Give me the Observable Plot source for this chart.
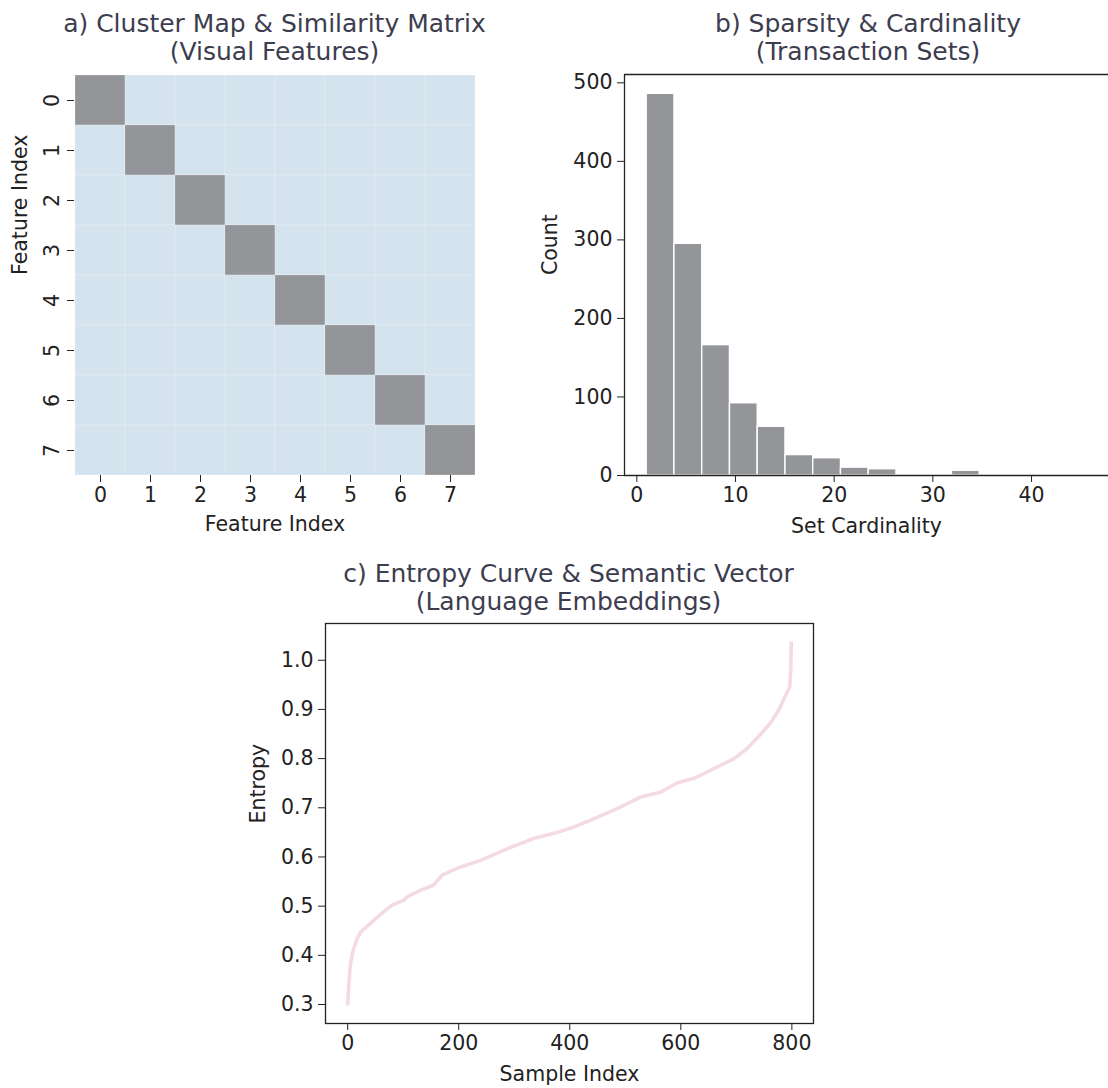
<!DOCTYPE html>
<html><head><meta charset="utf-8">
<script src="https://cdn.jsdelivr.net/npm/d3@7"></script>
<script src="https://cdn.jsdelivr.net/npm/@observablehq/plot@0.6"></script>
<style>
html,body{margin:0;padding:0;background:#fff;overflow:hidden;}
#root{position:relative;width:1108px;height:1088px;font-family:"DejaVu Sans",sans-serif;overflow:hidden;}
.panel{position:absolute;}
.title{position:absolute;text-align:center;color:#3d3d50;font-size:25px;line-height:28px;white-space:nowrap;transform:translateX(-50%);}
</style></head><body><div id="root"></div><script>
// ---------- data ----------
const featureLabels = [0, 1, 2, 3, 4, 5, 6, 7];
const similarityRows = [
  [1, 0, 0, 0, 0, 0, 0, 0],
  [0, 1, 0, 0, 0, 0, 0, 0],
  [0, 0, 1, 0, 0, 0, 0, 0],
  [0, 0, 0, 1, 0, 0, 0, 0],
  [0, 0, 0, 0, 1, 0, 0, 0],
  [0, 0, 0, 0, 0, 1, 0, 0],
  [0, 0, 0, 0, 0, 0, 1, 0],
  [0, 0, 0, 0, 0, 0, 0, 1]
];
const binEdges = [1, 3.8125, 6.625, 9.4375, 12.25, 15.0625, 17.875, 20.6875, 23.5, 26.3125, 29.125, 31.9375, 34.75, 37.5625, 40.375, 43.1875, 46];
const binCounts = [486, 295, 166, 92, 62, 26, 22, 10, 8, 1, 1, 6, 1, 0, 0, 1];
const histXTicks = [0, 10, 20, 30, 40];
const histYTicks = [0, 100, 200, 300, 400, 500];
const sampleIndex = [0, 2, 5, 10, 17, 24, 41, 62, 80, 101, 107, 131, 155, 170, 197, 239, 288, 336, 372, 402, 438, 492, 528, 564, 594, 624, 666, 696, 720, 745, 763, 778, 787, 796, 798, 799];
const entropyValue = [0.298, 0.34, 0.383, 0.41, 0.434, 0.448, 0.465, 0.486, 0.502, 0.512, 0.519, 0.532, 0.543, 0.563, 0.577, 0.593, 0.617, 0.638, 0.648, 0.659, 0.675, 0.702, 0.722, 0.732, 0.751, 0.760, 0.783, 0.800, 0.821, 0.851, 0.875, 0.902, 0.925, 0.945, 0.98, 1.038];
const entropyXTicks = [0, 200, 400, 600, 800];
const entropyYTicks = [0.3, 0.4, 0.5, 0.6, 0.7, 0.8, 0.9, 1.0];
const titles = {
  a: ["a) Cluster Map & Similarity Matrix", "(Visual Features)"],
  b: ["b) Sparsity & Cardinality", "(Transaction Sets)"],
  c: ["c) Entropy Curve & Semantic Vector", "(Language Embeddings)"]
};

// ---------- styles ----------
const INK = "#222";
const FS = 20.5;
const baseStyle = {fontFamily: "DejaVu Sans, sans-serif", fontSize: FS + "px", color: INK, background: "transparent", overflow: "visible"};
const root = document.getElementById("root");

function place(el, left, top) {
  const wrap = document.createElement("div");
  wrap.className = "panel";
  wrap.style.left = left + "px";
  wrap.style.top = top + "px";
  wrap.appendChild(el);
  root.appendChild(wrap);
}
function addTitle(lines, cx, top) {
  const t = document.createElement("div");
  t.className = "title";
  t.style.left = cx + "px";
  t.style.top = top + "px";
  t.innerHTML = lines.map(s => s.replace(/&/g, "&amp;")).join("<br>");
  root.appendChild(t);
}

// ---------- panel a: heatmap ----------
const cells = similarityRows.flatMap((row, i) => row.map((v, j) => ({x: featureLabels[j], y: featureLabels[i], v})));
const plotA = Plot.plot({
  width: 485, height: 490,
  marginLeft: 74, marginRight: 10, marginTop: 14, marginBottom: 75,
  style: baseStyle,
  x: {type: "band", domain: featureLabels, padding: 0},
  y: {type: "band", domain: featureLabels, padding: 0},
  color: {type: "linear", domain: [0, 1], range: ["#d5e3ee", "#949599"]},
  marks: [
    Plot.cell(cells, {x: "x", y: "y", fill: "v", inset: 0, stroke: "#ffffff", strokeOpacity: 0.35, strokeWidth: 0.6}),
    Plot.axisX({anchor: "bottom", tickSize: 7, tickPadding: 5, label: null, fontSize: FS, stroke: INK}),
    Plot.axisY({anchor: "left", tickSize: 7, tickPadding: 9, tickRotate: -90, label: null, fontSize: FS, stroke: INK}),
    Plot.text(["Feature Index"], {frameAnchor: "bottom", dy: 55, fontSize: FS, fill: INK}),
    Plot.text(["Feature Index"], {frameAnchor: "left", dx: -54, rotate: -90, fontSize: FS, fill: INK})
  ]
});
place(plotA, 0, 60);
addTitle(titles.a, 274.5, 10);

// ---------- panel b: histogram ----------
const bins = binCounts.map((c, i) => ({x1: binEdges[i], x2: binEdges[i + 1], count: c}));
const bXDomain = [-1.25, 47.8];
const bYDomain = [0, 510.6];
const plotB = Plot.plot({
  width: 608, height: 490,
  marginLeft: 124, marginRight: 0, marginTop: 14, marginBottom: 75,
  style: baseStyle,
  x: {domain: bXDomain},
  y: {domain: bYDomain},
  marks: [
    Plot.rectY(bins, {x1: "x1", x2: "x2", y1: 0, y2: "count", fill: "#949599", stroke: "#ffffff", strokeWidth: 1.4}),
    Plot.ruleY([bYDomain[0], bYDomain[1]], {stroke: INK, strokeWidth: 1.3}),
    Plot.ruleX([bXDomain[0]], {stroke: INK, strokeWidth: 1.3}),
    Plot.axisX(histXTicks, {anchor: "bottom", tickSize: 7, tickPadding: 5, label: null, fontSize: FS, stroke: INK}),
    Plot.axisY(histYTicks, {anchor: "left", tickSize: 7, tickPadding: 5, label: null, fontSize: FS, stroke: INK}),
    Plot.text(["Set Cardinality"], {frameAnchor: "bottom", dy: 57, fontSize: FS, fill: INK}),
    Plot.text(["Count"], {frameAnchor: "left", dx: -74, rotate: -90, fontSize: FS, fill: INK})
  ]
});
place(plotB, 500, 60);
addTitle(titles.b, 868, 10);

// ---------- panel c: entropy curve ----------
const curve = sampleIndex.map((s, i) => ({s, e: entropyValue[i]}));
const cXDomain = [-39.95, 838.95];
const cYDomain = [0.2614, 1.0747];
const plotC = Plot.plot({
  width: 593, height: 488,
  marginLeft: 85, marginRight: 20, marginTop: 23, marginBottom: 65,
  style: baseStyle,
  x: {domain: cXDomain},
  y: {domain: cYDomain},
  marks: [
    Plot.line(curve, {x: "s", y: "e", stroke: "#f4dbe2", strokeWidth: 3.6, strokeLinejoin: "round", strokeLinecap: "butt"}),
    Plot.frame({stroke: INK, strokeWidth: 1.3}),
    Plot.axisX(entropyXTicks, {anchor: "bottom", tickSize: 7, tickPadding: 5, label: null, fontSize: FS, stroke: INK}),
    Plot.axisY(entropyYTicks, {anchor: "left", tickSize: 7, tickPadding: 5, label: null, fontSize: FS, stroke: INK, tickFormat: d3.format(".1f")}),
    Plot.text(["Sample Index"], {frameAnchor: "bottom", dy: 57, fontSize: FS, fill: INK}),
    Plot.text(["Entropy"], {frameAnchor: "left", dx: -67, rotate: -90, fontSize: FS, fill: INK})
  ]
});
place(plotC, 240, 600);
addTitle(titles.c, 568.5, 560);
</script></body></html>
